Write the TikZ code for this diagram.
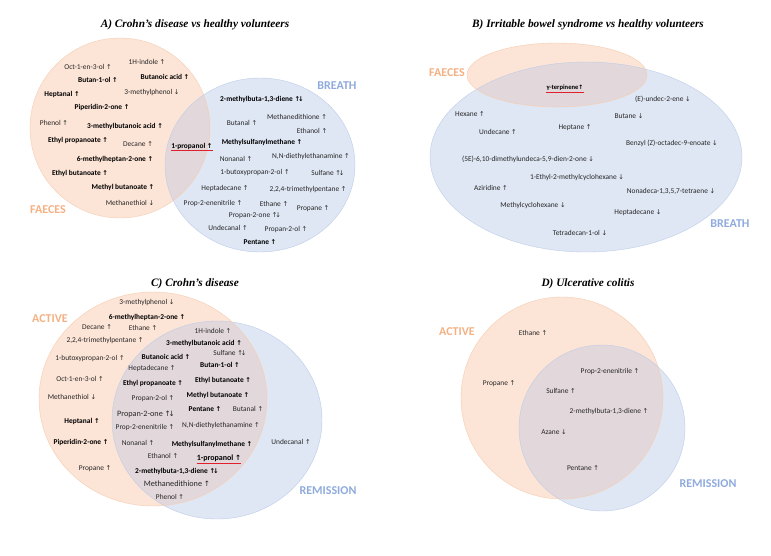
\documentclass[tikz,border=0pt]{standalone}
\usepackage{fontspec}
\usepackage{tikz}
\setmainfont{Carlito}
\newfontfamily\titlefont{Liberation Serif}
\newfontfamily\arrowfont[Scale=0.9]{DejaVu Sans}
\newcommand{\upar}{{\arrowfont ↑}}
\newcommand{\dnar}{{\arrowfont ↓}}
\newcommand{\udar}{{\arrowfont ↑\kern-0.3em↓}}
\definecolor{faecesfill}{HTML}{FCE4D6}
\definecolor{breathfill}{HTML}{DFE7F4}
\definecolor{bothfill}{HTML}{E2D7DA}
\definecolor{faecesline}{HTML}{F6CDB0}
\definecolor{breathline}{HTML}{BDCDE8}
\definecolor{faecestext}{HTML}{F4B183}
\definecolor{breathtext}{HTML}{8FAADC}
\definecolor{markred}{HTML}{E0202A}
\tikzstyle{voc} = [font=\fontsize{7.4}{8}\selectfont, text=black!85, inner sep=0pt]
\tikzstyle{vocb} = [voc, font=\fontsize{7.4}{8}\selectfont\bfseries, text=black]
\tikzstyle{paneltitle} = [font=\titlefont\fontsize{11.3}{13}\selectfont\bfseries\itshape]
\tikzstyle{setlabel} = [font=\fontsize{12}{13}\selectfont\bfseries, inner sep=0pt]
\tikzstyle{redline} = [color=markred, line width=1.1pt]

\begin{document}
\begin{tikzpicture}[x=1pt,y=-1pt]
\useasboundingbox[fill=white] (0,0) rectangle (771,555);

% A) Crohn's disease vs healthy volunteers
\node [paneltitle] (titleA) at (195,25) {A) Crohn’s disease vs healthy volunteers};
\fill [breathfill] (260,165) ellipse [x radius=95pt, y radius=87pt];
\fill [faecesfill] (120,128) ellipse [x radius=90pt, y radius=90pt];
\begin{scope}
\clip (120,128) ellipse [x radius=90pt, y radius=90pt];
\fill [bothfill] (260,165) ellipse [x radius=95pt, y radius=87pt];
\end{scope}
\draw [breathline, thin] (260,165) ellipse [x radius=95pt, y radius=87pt];
\draw [faecesline, thin] (120,128) ellipse [x radius=90pt, y radius=90pt];
\node [setlabel, text=breathtext] (breathA) at (337,86) {BREATH};
\node [setlabel, text=faecestext] (faecesA) at (48,210) {FAECES};
\node [voc] (a1) at (88,67) {Oct-1-en-3-ol \upar};
\node [voc] (a2) at (147,62) {1H-indole \upar};
\node [vocb] (a3) at (98,80) {Butan-1-ol \upar};
\node [vocb] (a4) at (165,77) {Butanoic acid \upar};
\node [vocb] (a5) at (62,94) {Heptanal \upar};
\node [voc] (a6) at (152,93) {3-methylphenol \dnar};
\node [vocb] (a7) at (102,107) {Piperidin-2-one \upar};
\node [voc] (a8) at (54,123) {Phenol \upar};
\node [vocb] (a9) at (125,126) {3-methylbutanoic acid \upar};
\node [vocb] (a10) at (78,140) {Ethyl propanoate \upar};
\node [voc] (a11) at (138,144) {Decane \upar};
\node [vocb] (a12) at (115,159) {6-methylheptan-2-one \upar};
\node [vocb] (a13) at (80,173) {Ethyl butanoate \upar};
\node [vocb] (a14) at (123,187) {Methyl butanoate \upar};
\node [voc] (a15) at (130,203) {Methanethiol \dnar};
\node [vocb] (propA) at (192,146) {1-propanol \upar};
\draw [redline] ([yshift=-1.5pt]propA.south west) -- ([yshift=-1.5pt]propA.south east);
\node [vocb] (a16) at (262,99) {2-methylbuta-1,3-diene \udar};
\node [voc] (a17) at (297,117) {Methanedithione \upar};
\node [voc] (a18) at (242,123) {Butanal \upar};
\node [voc] (a19) at (312,131) {Ethanol \upar};
\node [vocb] (a20) at (262,142) {Methylsulfanylmethane \upar};
\node [voc] (a21) at (236,159) {Nonanal \upar};
\node [voc] (a22) at (311,157) {N,N-diethylethanamine \upar};
\node [voc] (a23) at (255,173) {1-butoxypropan-2-ol \upar};
\node [voc] (a24) at (328,173) {Sulfane \udar};
\node [voc] (a25) at (225,189) {Heptadecane \upar};
\node [voc] (a26) at (308,190) {2,2,4-trimethylpentane \upar};
\node [voc] (a27) at (213,204) {Prop-2-enenitrile \upar};
\node [voc] (a28) at (274,204) {Ethane \upar};
\node [voc] (a29) at (313,209) {Propane \upar};
\node [voc] (a30) at (255,216) {Propan-2-one \udar};
\node [voc] (a31) at (228,228) {Undecanal \upar};
\node [voc] (a32) at (286,230) {Propan-2-ol \upar};
\node [vocb] (a33) at (260,242) {Pentane \upar};

% B) Irritable bowel syndrome vs healthy volunteers
\node [paneltitle] (titleB) at (588,25) {B) Irritable bowel syndrome vs healthy volunteers};
\fill [breathfill] (586,157) ellipse [x radius=156pt, y radius=95pt];
\fill [faecesfill] (557,75) ellipse [x radius=90pt, y radius=32pt];
\begin{scope}
\clip (557,75) ellipse [x radius=90pt, y radius=32pt];
\fill [bothfill] (586,157) ellipse [x radius=156pt, y radius=95pt];
\end{scope}
\draw [breathline, thin] (586,157) ellipse [x radius=156pt, y radius=95pt];
\draw [faecesline, thin] (557,75) ellipse [x radius=90pt, y radius=32pt];
\node [setlabel, text=faecestext] (faecesB) at (447,73) {FAECES};
\node [setlabel, text=breathtext] (breathB) at (730,224) {BREATH};
\node [vocb, font=\fontsize{6.6}{7}\selectfont\bfseries] (terpB) at (565,88) {γ-terpinene\upar};
\draw [redline] ([yshift=-1.5pt]terpB.south west) -- ([yshift=-1.5pt]terpB.south east);
\node [voc] (b1) at (663,99) {(E)-undec-2-ene \dnar};
\node [voc] (b2) at (470,114) {Hexane \upar};
\node [voc] (b3) at (629,116) {Butane \dnar};
\node [voc] (b4) at (575,128) {Heptane \upar};
\node [voc] (b5) at (498,132) {Undecane \upar};
\node [voc] (b6) at (672,143) {Benzyl (Z)-octadec-9-enoate \dnar};
\node [voc] (b7) at (528,159) {(5E)-6,10-dimethylundeca-5,9-dien-2-one \dnar};
\node [voc] (b8) at (577,178) {1-Ethyl-2-methylcyclohexane \dnar};
\node [voc] (b9) at (491,188) {Aziridine \upar};
\node [voc] (b10) at (671,191) {Nonadeca-1,3,5,7-tetraene \dnar};
\node [voc] (b11) at (533,206) {Methylcyclohexane \dnar};
\node [voc] (b12) at (638,213) {Heptadecane \dnar};
\node [voc] (b13) at (580,233) {Tetradecan-1-ol \dnar};

% C) Crohn's disease
\node [paneltitle] (titleC) at (195,284) {C) Crohn’s disease};
\fill [breathfill] (217,420) ellipse [x radius=105pt, y radius=99pt];
\fill [faecesfill] (153,399) ellipse [x radius=114pt, y radius=107pt];
\begin{scope}
\clip (153,399) ellipse [x radius=114pt, y radius=107pt];
\fill [bothfill] (217,420) ellipse [x radius=105pt, y radius=99pt];
\end{scope}
\draw [breathline, thin] (217,420) ellipse [x radius=105pt, y radius=99pt];
\draw [faecesline, thin] (153,399) ellipse [x radius=114pt, y radius=107pt];
\node [setlabel, text=faecestext] (activeC) at (50,319) {ACTIVE};
\node [setlabel, text=breathtext] (remissionC) at (328,491) {REMISSION};
\node [voc] (c1) at (147,303) {3-methylphenol \dnar};
\node [vocb] (c2) at (147,317) {6-methylheptan-2-one \upar};
\node [voc] (c3) at (97,327) {Decane \upar};
\node [voc] (c4) at (143,328) {Ethane \upar};
\node [voc] (c5) at (213,331) {1H-indole \upar};
\node [voc] (c6) at (105,341) {2,2,4-trimethylpentane \upar};
\node [vocb] (c7) at (204,343) {3-methylbutanoic acid \upar};
\node [voc] (c8) at (230,353) {Sulfane \udar};
\node [voc] (c9) at (90,359) {1-butoxypropan-2-ol \upar};
\node [vocb] (c10) at (166,357) {Butanoic acid \upar};
\node [vocb] (c11) at (220,365) {Butan-1-ol \upar};
\node [voc] (c12) at (152,369) {Heptadecane \upar};
\node [voc] (c13) at (80,379) {Oct-1-en-3-ol \upar};
\node [vocb] (c14) at (153,383) {Ethyl propanoate \upar};
\node [vocb] (c15) at (223,380) {Ethyl butanoate \upar};
\node [voc] (c16) at (72,397) {Methanethiol \dnar};
\node [voc] (c17) at (153,399) {Propan-2-ol \upar};
\node [vocb] (c18) at (218,395) {Methyl butanoate \upar};
\node [vocb] (c19) at (205,409) {Pentane \upar};
\node [voc] (c20) at (248,409) {Butanal \upar};
\node [voc, font=\fontsize{8.2}{9}\selectfont] (c21) at (146,414) {Propan-2-one \udar};
\node [vocb] (c22) at (82,421) {Heptanal \upar};
\node [voc] (c23) at (145,428) {Prop-2-enenitrile \upar};
\node [voc] (c24) at (221,426) {N,N-diethylethanamine \upar};
\node [vocb] (c25) at (81,442) {Piperidin-2-one \upar};
\node [voc] (c26) at (138,443) {Nonanal \upar};
\node [vocb] (c27) at (212,444) {Methylsulfanylmethane \upar};
\node [voc] (c28) at (291,442) {Undecanal \upar};
\node [voc] (c29) at (163,456) {Ethanol \upar};
\node [vocb, font=\fontsize{8}{9}\selectfont\bfseries] (propC) at (219,458) {1-propanol \upar};
\draw [redline] ([yshift=-1.5pt]propC.south west) -- ([yshift=-1.5pt]propC.south east);
\node [voc] (c30) at (95,469) {Propane \upar};
\node [vocb] (c31) at (177,471) {2-methylbuta-1,3-diene \udar};
\node [voc, font=\fontsize{8.2}{9}\selectfont] (c32) at (177,484) {Methanedithione \upar};
\node [voc] (c33) at (170,497) {Phenol \upar};

% D) Ulcerative colitis
\node [paneltitle] (titleD) at (588,284) {D) Ulcerative colitis};
\fill [breathfill] (602,428) ellipse [x radius=83pt, y radius=83pt];
\fill [faecesfill] (562,398) ellipse [x radius=101pt, y radius=101pt];
\begin{scope}
\clip (562,398) ellipse [x radius=101pt, y radius=101pt];
\fill [bothfill] (602,428) ellipse [x radius=83pt, y radius=83pt];
\end{scope}
\draw [breathline, thin] (602,428) ellipse [x radius=83pt, y radius=83pt];
\draw [faecesline, thin] (562,398) ellipse [x radius=101pt, y radius=101pt];
\node [setlabel, text=faecestext] (activeD) at (457,332) {ACTIVE};
\node [setlabel, text=breathtext] (remissionD) at (708,484) {REMISSION};
\node [voc] (d1) at (533,333) {Ethane \upar};
\node [voc] (d2) at (610,372) {Prop-2-enenitrile \upar};
\node [voc] (d3) at (499,384) {Propane \upar};
\node [voc] (d4) at (561,391) {Sulfane \upar};
\node [voc] (d5) at (609,412) {2-methylbuta-1,3-diene \upar};
\node [voc] (d6) at (554,432) {Azane \dnar};
\node [voc] (d7) at (583,468) {Pentane \upar};
\end{tikzpicture}
\end{document}
